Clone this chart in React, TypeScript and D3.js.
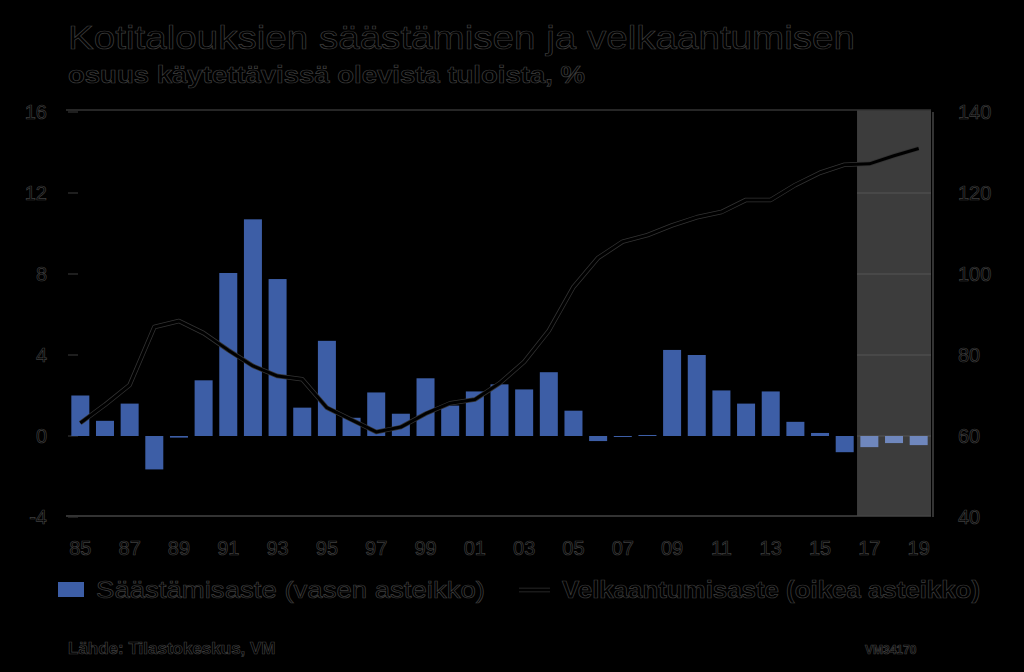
import React from "react";
import * as d3 from "d3";

const years = d3.range(1985, 2020).map(String);
const savingRate = [2.0, 0.75, 1.6, -1.65, -0.08, 2.75, 8.05, 10.7, 7.75, 1.4, 4.7, 0.9, 2.15, 1.1, 2.85, 1.5, 2.2, 2.55, 2.3, 3.15, 1.25, -0.25, -0.05, 0.05, 4.25, 4.0, 2.25, 1.6, 2.2, 0.7, 0.15, -0.8, -0.55, -0.35, -0.45];
const debtRate = [63.2, 67.7, 72.6, 86.9, 88.4, 85.4, 81.2, 77.3, 74.8, 74.0, 67.0, 64.0, 61.0, 62.2, 65.5, 68.1, 69.0, 73.0, 78.3, 86.0, 96.8, 104.0, 108.0, 109.6, 112.0, 114.0, 115.3, 118.3, 118.3, 122.0, 125.0, 127.0, 127.2, 129.2, 131.0];
const forecastStart = "2017";
const leftTicks = [-4, 0, 4, 8, 12, 16];
const rightTicks = [40, 60, 80, 100, 120, 140];
const xTickYears = years.filter((_, i) => i % 2 === 0);

const title = "Kotitalouksien säästämisen ja velkaantumisen";
const subtitle = "osuus käytettävissä olevista tuloista, %";
const legendBar = "Säästämisaste (vasen asteikko)";
const legendLine = "Velkaantumisaste (oikea asteikko)";
const source = "Lähde: Tilastokeskus, VM";
const code = "VM34170";

const W = 1024, H = 672;
const L = 68, R = 931, T = 112, B = 517;

const txt = { fill: "#000", stroke: "#3e3e3e", strokeWidth: 0.7, fontFamily: "Liberation Sans, Arial, sans-serif" } as const;

export default function App() {
  const x = d3.scaleBand().domain(years).range([L, R]).paddingInner(0.27).paddingOuter(0.135);
  const yL = d3.scaleLinear().domain([-4, 16]).range([B, T]);
  const yR = d3.scaleLinear().domain([40, 140]).range([B, T]);
  const step = x.step();
  const cx = (y: string) => (x(y) as number) + x.bandwidth() / 2;
  const fx = L + years.indexOf(forecastStart) * step;
  const line = d3.line<number>().x((_, i) => cx(years[i])).y((d) => yR(d)).curve(d3.curveLinear);
  const path = line(debtRate) || "";

  return (
    <svg width={W} height={H} style={{ position: "absolute", left: 0, top: 0 }}>
      <rect x={0} y={0} width={W} height={H} fill="#000" />
      <rect x={fx} y={T - 2} width={R - fx} height={B - T + 1} fill="#3c3c3c" />
      {leftTicks.filter((t) => t > -4 && t < 16).map((t) => (
        <line key={"g" + t} x1={fx} x2={R} y1={yL(t)} y2={yL(t)} stroke="#555" strokeWidth={1} />
      ))}
      <line x1={L - 2} x2={R} y1={T - 2} y2={T - 2} stroke="#333" strokeWidth={1.5} />
      <line x1={L - 2} x2={R} y1={B - 1} y2={B - 1} stroke="#444" strokeWidth={1.5} />
      <line x1={R + 2} x2={R + 2} y1={T} y2={B} stroke="#444" strokeWidth={1.5} />
      {leftTicks.map((t) => (
        <line key={"lt" + t} x1={L} x2={L + 10} y1={yL(t)} y2={yL(t)} stroke="#333" strokeWidth={1.2} />
      ))}
      {savingRate.map((v, i) => {
        const y0 = yL(0), y1 = yL(v);
        const forecast = years[i] >= forecastStart;
        return (
          <rect key={years[i]} x={x(years[i])} width={x.bandwidth()} y={Math.min(y0, y1)} height={Math.max(1, Math.abs(y1 - y0))}
            fill={forecast ? "#6f87bd" : "#3d5ea6"} />
        );
      })}
      <path d={path} fill="none" stroke="#333" strokeWidth={4.5} strokeLinejoin="round" />
      <path d={path} fill="none" stroke="#000" strokeWidth={3} strokeLinejoin="round" />
      {leftTicks.map((t) => (
        <text key={"ll" + t} x={47} y={yL(t)} dy="0.35em" textAnchor="end" fontSize={20} {...txt}>{t}</text>
      ))}
      {rightTicks.map((t) => (
        <text key={"rl" + t} x={958} y={yR(t)} dy="0.35em" textAnchor="start" fontSize={20} {...txt}>{t}</text>
      ))}
      {xTickYears.map((y) => (
        <text key={"x" + y} x={cx(y)} y={548} dy="0.35em" textAnchor="middle" fontSize={20} {...txt}>{y.slice(2)}</text>
      ))}
      <text x={68} y={49} fontSize={34} {...txt} textLength={787} lengthAdjust="spacingAndGlyphs">{title}</text>
      <text x={68} y={83} fontSize={24} fontWeight="bold" {...txt} textLength={517} lengthAdjust="spacingAndGlyphs">{subtitle}</text>
      <rect x={58} y={582} width={26} height={15} fill="#3d5ea6" />
      <text x={96} y={590} dy="0.35em" fontSize={24} {...txt} textLength={389} lengthAdjust="spacingAndGlyphs">{legendBar}</text>
      <line x1={519} x2={550} y1={590} y2={590} stroke="#333" strokeWidth={4.5} />
      <line x1={519} x2={550} y1={590} y2={590} stroke="#000" strokeWidth={3} />
      <text x={562} y={590} dy="0.35em" fontSize={24} fontWeight="bold" {...txt} textLength={418} lengthAdjust="spacingAndGlyphs">{legendLine}</text>
      <text x={68} y={648} dy="0.35em" fontSize={17} fontWeight="bold" {...txt}>{source}</text>
      <text x={865} y={650} dy="0.35em" fontSize={12} fontWeight="bold" {...txt}>{code}</text>
    </svg>
  );
}
